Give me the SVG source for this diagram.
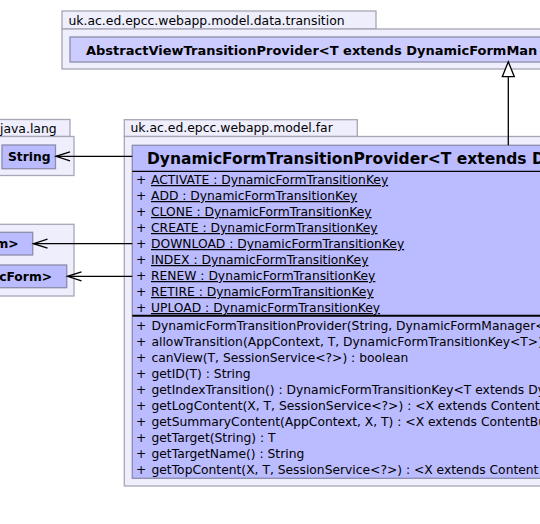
<svg xmlns="http://www.w3.org/2000/svg" width="540" height="524" viewBox="0 0 540 524">
<style>
.pkg{fill:#EEEEFC;stroke:#A6A6B6;stroke-width:1.3}
.cls{fill:#BBBBFF;stroke:#8C8CAC;stroke-width:1.3}
.cls2{fill:#CCCCFF;stroke:#8C8CAC;stroke-width:1.3}
.pt{font-family:"DejaVu Sans",sans-serif;font-size:12.4px;fill:#000}
.ct{font-family:"DejaVu Sans",sans-serif;font-size:12.3px;font-weight:bold;fill:#000}
.ct2{font-family:"DejaVu Sans",sans-serif;font-size:13px;font-weight:bold;fill:#000}
.tt{font-family:"DejaVu Sans",sans-serif;font-size:15.5px;font-weight:bold;fill:#000}
.m{font-family:"DejaVu Sans",sans-serif;font-size:12.3px;fill:#000}
.u{text-decoration:underline}
.ln{stroke:#000;stroke-width:1.3;fill:none}
</style>
<rect width="540" height="524" fill="#FFFFFF"/>
<g id="pkg-transition">
<rect class="pkg" x="62" y="11" width="314" height="18"/>
<rect class="pkg" x="62" y="29" width="490" height="40"/>
<text class="pt" x="68.5" y="25">uk.ac.ed.epcc.webapp.model.data.transition</text>
</g>
<g id="AbstractViewTransitionProvider">
<rect class="cls2" x="70" y="37" width="480" height="25"/>
<text class="ct2" x="86" y="54.5">AbstractViewTransitionProvider&lt;T extends DynamicFormMan</text>
</g>
<g id="pkg-java-lang">
<rect class="pkg" x="-10" y="119.5" width="80" height="17"/>
<rect class="pkg" x="-10" y="136.5" width="84" height="39"/>
<text class="pt" x="0" y="133">java.lang</text>
</g>
<g id="String">
<rect class="cls" x="2" y="145" width="53.5" height="23.7"/>
<text class="ct" x="8" y="161">String</text>
</g>
<g id="pkg-left">
<rect class="pkg" x="-10" y="224.3" width="84" height="71.7"/>
</g>
<g id="DynamicFormManager">
<rect class="cls" x="-10" y="232.3" width="42.7" height="22.7"/>
<text class="ct" x="18.5" y="248" text-anchor="end">m&gt;</text>
</g>
<g id="DynamicForm">
<rect class="cls" x="-10" y="265" width="76.7" height="22.7"/>
<text class="ct" x="52" y="281" text-anchor="end">cForm&gt;</text>
</g>
<g id="pkg-far">
<rect class="pkg" x="124.3" y="119.7" width="233" height="16.8"/>
<rect class="pkg" x="124.3" y="136.5" width="430" height="349.5"/>
<text class="pt" x="130.5" y="132">uk.ac.ed.epcc.webapp.model.far</text>
</g>
<g id="DynamicFormTransitionProvider">
<rect class="cls" x="132.3" y="145.3" width="420" height="333"/>
<text class="tt" x="147" y="164">DynamicFormTransitionProvider&lt;T extends D</text>
<line class="ln" x1="132.3" y1="171.3" x2="545" y2="171.3"/>
<g class="m">
<text x="136" y="184">+</text><text class="u" x="151" y="184">ACTIVATE : DynamicFormTransitionKey</text>
<text x="136" y="200">+</text><text class="u" x="151" y="200">ADD : DynamicFormTransitionKey</text>
<text x="136" y="216">+</text><text class="u" x="151" y="216">CLONE : DynamicFormTransitionKey</text>
<text x="136" y="232">+</text><text class="u" x="151" y="232">CREATE : DynamicFormTransitionKey</text>
<text x="136" y="248">+</text><text class="u" x="151" y="248">DOWNLOAD : DynamicFormTransitionKey</text>
<text x="136" y="264">+</text><text class="u" x="151" y="264">INDEX : DynamicFormTransitionKey</text>
<text x="136" y="280">+</text><text class="u" x="151" y="280">RENEW : DynamicFormTransitionKey</text>
<text x="136" y="296">+</text><text class="u" x="151" y="296">RETIRE : DynamicFormTransitionKey</text>
<text x="136" y="312">+</text><text class="u" x="151" y="312">UPLOAD : DynamicFormTransitionKey</text>
</g>
<line x1="132.3" y1="315.8" x2="545" y2="315.8" stroke="#000" stroke-width="2"/>
<g class="m">
<text x="136" y="330">+</text><text x="151.5" y="330">DynamicFormTransitionProvider(String, DynamicFormManager&lt;</text>
<text x="136" y="346">+</text><text x="151.5" y="346">allowTransition(AppContext, T, DynamicFormTransitionKey&lt;T&gt;)</text>
<text x="136" y="362">+</text><text x="151.5" y="362">canView(T, SessionService&lt;?&gt;) : boolean</text>
<text x="136" y="378">+</text><text x="151.5" y="378">getID(T) : String</text>
<text x="136" y="394">+</text><text x="151.5" y="394">getIndexTransition() : DynamicFormTransitionKey&lt;T extends Dy</text>
<text x="136" y="410">+</text><text x="151.5" y="410">getLogContent(X, T, SessionService&lt;?&gt;) : &lt;X extends Content</text>
<text x="136" y="426">+</text><text x="151.5" y="426">getSummaryContent(AppContext, X, T) : &lt;X extends ContentBu</text>
<text x="136" y="442">+</text><text x="151.5" y="442">getTarget(String) : T</text>
<text x="136" y="458">+</text><text x="151.5" y="458">getTargetName() : String</text>
<text x="136" y="474">+</text><text x="151.5" y="474">getTopContent(X, T, SessionService&lt;?&gt;) : &lt;X extends Content</text>
</g>
</g>
<g id="connectors">
<line class="ln" x1="508.3" y1="145.3" x2="508.3" y2="76.7"/>
<polygon points="508.3,61.7 502.3,76.7 514.3,76.7" fill="#FFFFFF" stroke="#000" stroke-width="1.3"/>
<line class="ln" x1="132.3" y1="156.3" x2="56" y2="156.3"/>
<polyline class="ln" points="70,151.8 56,156.3 70,160.8"/>
<line class="ln" x1="132.3" y1="243.7" x2="33.5" y2="243.7"/>
<polyline class="ln" points="47.5,239.2 33.5,243.7 47.5,248.2"/>
<line class="ln" x1="132.3" y1="276.3" x2="67.5" y2="276.3"/>
<polyline class="ln" points="81.5,271.8 67.5,276.3 81.5,280.8"/>
</g>
</svg>
